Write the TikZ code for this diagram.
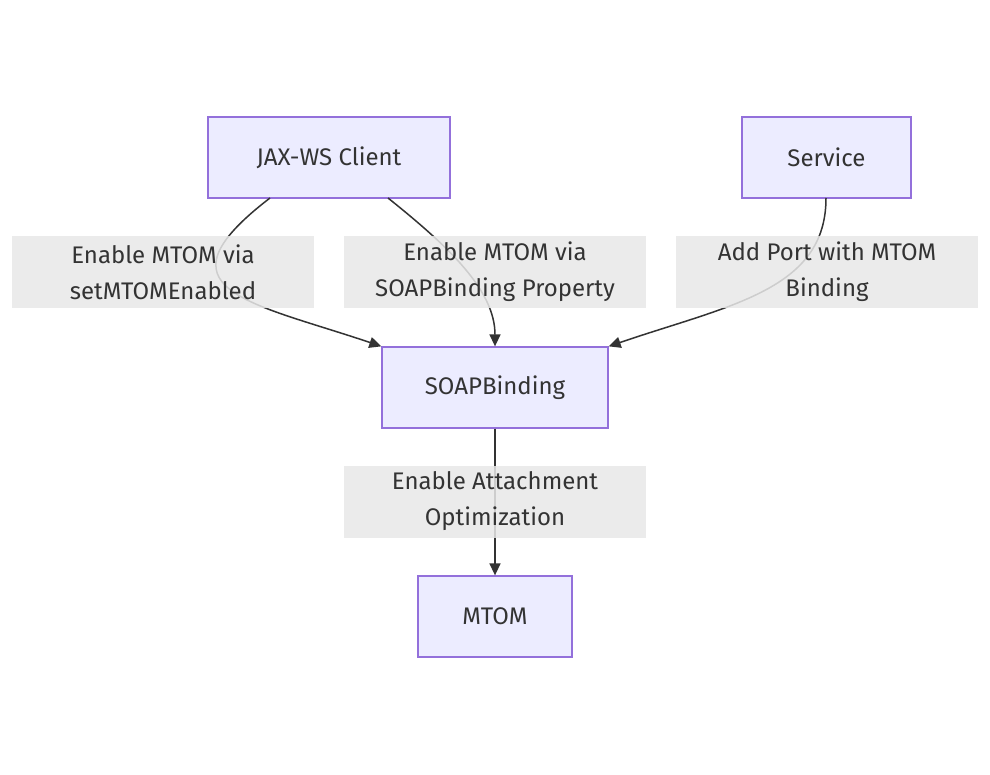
\documentclass[tikz,border=0pt]{standalone}
\usepackage{fontspec}
\setmainfont{Fira Sans}
\usetikzlibrary{arrows.meta}
\definecolor{nodefill}{HTML}{ECECFF}
\definecolor{nodeline}{HTML}{9370DB}
\definecolor{txt}{HTML}{333333}
\definecolor{lblfill}{HTML}{E8E8E8}
\tikzset{
  box/.style={draw=nodeline, fill=nodefill, line width=1.3pt, inner sep=0pt, text=txt, font=\fontsize{24}{36}\selectfont, align=center},
  lbl/.style={fill=lblfill, fill opacity=0.85, text opacity=1, inner sep=0pt, text=txt, font=\fontsize{24}{36}\selectfont, align=center, minimum width=302pt, minimum height=72pt},
  edge/.style={draw=txt, line width=1.5pt, -{Triangle[length=12pt,width=11pt]}}
}
\begin{document}
\begin{tikzpicture}[x=1pt,y=-1pt]
\useasboundingbox[fill=white] (0,0) rectangle (990,775);
\node[box, minimum width=242pt, minimum height=81pt] (client) at (329,157.5) {JAX-WS Client};
\node[box, minimum width=169pt, minimum height=81pt] (service) at (826.5,157.5) {Service};
\node[box, minimum width=226pt, minimum height=81pt] (soap) at (495,387.5) {SOAPBinding};
\node[box, minimum width=154pt, minimum height=81pt] (mtom) at (495,616.5) {MTOM};
\coordinate (c1) at (270,198);
\coordinate (c2) at (388,198);
\coordinate (s1) at (826,198);
\draw[edge] (c1) .. controls (150,290) and (250,302) .. (soap.north west);
\draw[edge] (c2) .. controls (448,246) and (495,290) .. (soap.north);
\draw[edge] (s1) .. controls (826,290) and (730,305) .. (soap.north east);
\draw[edge] (soap.south) -- (mtom.north);
\node[lbl] (l1) at (163,272) {Enable MTOM via\\setMTOMEnabled};
\node[lbl] (l2) at (495,272) {Enable MTOM via\\SOAPBinding Property};
\node[lbl] (l3) at (827,272) {Add Port with MTOM\\Binding};
\node[lbl] (l4) at (495,501.5) {Enable Attachment\\Optimization};
\end{tikzpicture}
\end{document}
